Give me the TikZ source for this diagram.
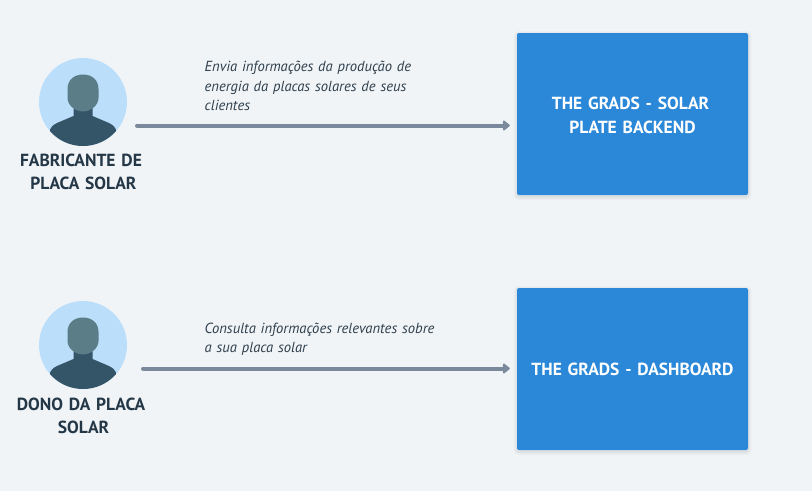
\documentclass[tikz,border=0pt]{standalone}
\usepackage{fontspec}
\setmainfont{PT Sans}
\usetikzlibrary{arrows.meta}
\definecolor{pagebg}{HTML}{F0F4F7}
\definecolor{boxblue}{HTML}{2B88D8}
\definecolor{circblue}{HTML}{BBDEFB}
\definecolor{headcol}{HTML}{5A7D87}
\definecolor{bodycol}{HTML}{345468}
\definecolor{arrowcol}{HTML}{7A8A9C}
\definecolor{inkdark}{HTML}{243746}
\definecolor{noteink}{HTML}{2F3F4C}
\tikzset{
  x=1pt,y=-1pt,
  avatar/.style={circle,fill=circblue,minimum size=88pt,inner sep=0pt},
  softedge/.style={preaction={draw=black,draw opacity=.02,line width=#1,fill=none,transform canvas={yshift=-1.5pt}}},
  system/.style={rectangle,fill=boxblue,rounded corners=2pt,minimum width=231pt,minimum height=162pt,inner sep=0pt,
    text=white,font=\fontsize{17.5}{24}\selectfont\bfseries,align=center,text width=225pt,
    softedge=7pt,softedge=5pt,softedge=3pt,softedge=1.5pt},
  actor/.style={text=inkdark,font=\fontsize{17.5}{23.5}\selectfont\bfseries,align=center,text width=150pt,inner sep=0pt},
  note/.style={text=noteink,font=\fontsize{14.6}{19.5}\selectfont\itshape,align=left,anchor=north west,inner sep=0pt,text width=280pt},
  flow/.style={draw=arrowcol,line width=4pt,line cap=round,shorten >=7pt,-{Triangle[length=7.5pt,width=11.5pt,round=false]}},
}
\newcommand{\persona}[1]{%
  \begin{scope}
    \clip (#1.center) circle[radius=44];
    \fill[bodycol] ([shift={(-9.5,6)}]#1.center) -- ([shift={(-9.5,14)}]#1.center)
      -- ([shift={(-26,21)}]#1.center)
      .. controls ([shift={(-30,23)}]#1.center) and ([shift={(-32,25)}]#1.center) .. ([shift={(-33,27.5)}]#1.center)
      -- ([shift={(-33,50)}]#1.center) -- ([shift={(33,50)}]#1.center) -- ([shift={(33,27.5)}]#1.center)
      .. controls ([shift={(32,25)}]#1.center) and ([shift={(30,23)}]#1.center) .. ([shift={(26,21)}]#1.center)
      -- ([shift={(9.5,14)}]#1.center)
      -- ([shift={(9.5,6)}]#1.center) -- cycle;
  \end{scope}
  \fill[headcol] ([shift={(0,-27.5)}]#1.center)
    .. controls ([shift={(9,-27.5)}]#1.center) and ([shift={(15.5,-22)}]#1.center) .. ([shift={(15.5,-13)}]#1.center)
    -- ([shift={(15.5,-4)}]#1.center)
    .. controls ([shift={(15.5,3)}]#1.center) and ([shift={(8,9.5)}]#1.center) .. ([shift={(0,9.5)}]#1.center)
    .. controls ([shift={(-8,9.5)}]#1.center) and ([shift={(-15.5,3)}]#1.center) .. ([shift={(-15.5,-4)}]#1.center)
    -- ([shift={(-15.5,-13)}]#1.center)
    .. controls ([shift={(-15.5,-22)}]#1.center) and ([shift={(-9,-27.5)}]#1.center) .. ([shift={(0,-27.5)}]#1.center) -- cycle;
}
\begin{document}
\begin{tikzpicture}
\useasboundingbox (0,0) rectangle (812,491);
\fill[pagebg] (0,0) rectangle (812,491);

\node[avatar] (makerPic) at (83,102) {};
\persona{makerPic}
\node[avatar] (ownerPic) at (83,345) {};
\persona{ownerPic}

\node[actor] (makerText) at (83.5,172) {FABRICANTE DE\kern5pt\\PLACA SOLAR};
\node[actor] (ownerText) at (83.5,416) {DONO DA PLACA\kern5pt\\SOLAR};

\node[system] (backend) at (632.5,114) {\rule{0pt}{15pt}THE GRADS - SOLAR\kern4pt\\PLATE BACKEND};
\node[system] (dash) at (632.5,369) {THE GRADS - DASHBOARD};

\node[note] (noteA) at (204.5,61) {Envia informações da produção de\\energia da placas solares de seus\\clientes};
\node[note] (noteB) at (204.5,322.5) {Consulta informações relevantes sobre\\a sua placa solar};

\coordinate (startA) at (137,125.5);
\coordinate (startB) at (143,368.5);
\draw[flow] (startA) -- (startA -| backend.west);
\draw[flow] (startB) -- (startB -| dash.west);
\end{tikzpicture}
\end{document}
